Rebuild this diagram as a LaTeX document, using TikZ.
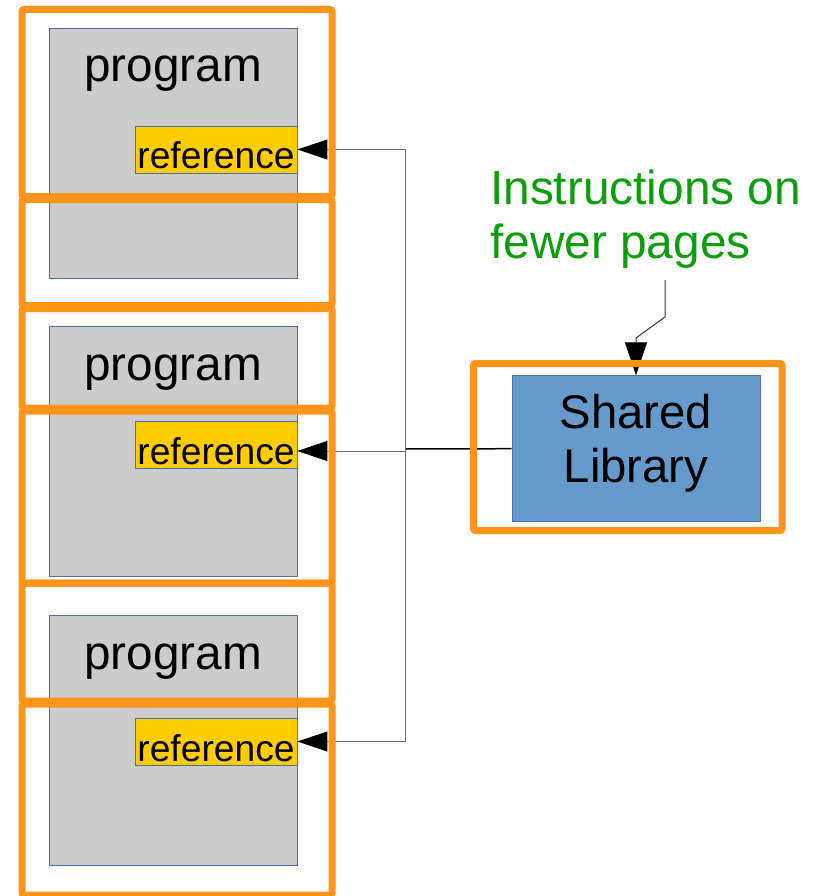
\documentclass[tikz,border=0pt]{standalone}
\usepackage{fontspec}
\setmainfont{Liberation Sans}
\usetikzlibrary{arrows.meta}

\definecolor{pageorange}{HTML}{FF9419}
\definecolor{progfill}{HTML}{CCCCCC}
\definecolor{boxedge}{HTML}{4A70A8}
\definecolor{refyellow}{HTML}{FFCC00}
\definecolor{libblue}{HTML}{6699CC}
\definecolor{notegreen}{HTML}{0A9E0A}
\definecolor{wire}{HTML}{6A6A6A}

\tikzset{
  progbox/.style={draw=boxedge, line width=0.8pt, fill=progfill, inner sep=0pt,
    minimum width=248pt, text height=54pt, text depth=196pt,
    font=\fontsize{47.7}{54}\selectfont},
  refbox/.style={draw=boxedge, line width=0.8pt, fill=refyellow, inner sep=0pt,
    minimum width=162pt, text height=43pt, text depth=4pt,
    font=\fontsize{37.2}{44}\selectfont},
  libbox/.style={draw=boxedge, line width=0.8pt, fill=libblue, inner sep=0pt,
    minimum width=248pt, minimum height=146pt},
  bigtext/.style={inner sep=0pt, font=\fontsize{47.3}{54}\selectfont},
  pageframe/.style={draw=pageorange, line width=7pt, rounded corners=2pt},
  feed/.style={draw=wire, line width=1pt,
    -{Triangle[length=30pt,width=20pt,color=black]}},
  libwire/.style={draw=black, line width=1.5pt},
  cuewire/.style={draw=black!80, line width=1pt,
    -{Triangle[length=33pt,width=22pt,color=black]}},
}

\begin{document}
\begin{tikzpicture}[x=1pt, y=-1pt]
  \useasboundingbox (0,0) rectangle (821,896);

  % programs, each with its reference slot
  \node[progbox] (prog1) at (173,153) {program};
  \node[progbox] (prog2) at (173,451) {program};
  \node[progbox] (prog3) at (173,740.5) {program};
  \node[refbox] (ref1) at (216,149.5) {reference};
  \node[refbox] (ref2) at (216,444.5) {reference};
  \node[refbox] (ref3) at (216,741.5) {reference};

  % the shared library
  \node[libbox] (lib) at (636,448.7) {};
  \node[bigtext, align=center, anchor=north] (libtext) at (636,393.7) {Shared\\Library};

  % note above the library
  \node[bigtext, align=left, anchor=north west, text=notegreen,
        font=\fontsize{47.8}{54}\selectfont] (note) at (490,169.3)
    {Instructions on\\fewer pages};

  % links from the library to every reference
  \coordinate (hub) at (405,449);
  \draw[libwire] (lib.west) -- (hub);
  \draw[feed] (hub) |- (ref1.east);
  \draw[feed] (hub |- 0,451) -- (ref2.east |- 0,451);
  \draw[feed] (hub) |- (ref3.east);

  % note pointer
  \coordinate (cue) at (665,280);
  \draw[cuewire] (cue) -- ++(0,37) -- (636,338) -- (lib.north);

  % memory pages
  \draw[pageframe] (22,9.5) rectangle (332,196.5);
  \draw[pageframe] (22,199.5) rectangle (332,305.5);
  \draw[pageframe] (22,308.5) rectangle (332,408);
  \draw[pageframe] (22,411) rectangle (332,583);
  \draw[pageframe] (22,583) rectangle (332,701);
  \draw[pageframe] (22,704) rectangle (332,895);
  \draw[pageframe] (473.5,363.5) rectangle (782,530.5);
\end{tikzpicture}
\end{document}
